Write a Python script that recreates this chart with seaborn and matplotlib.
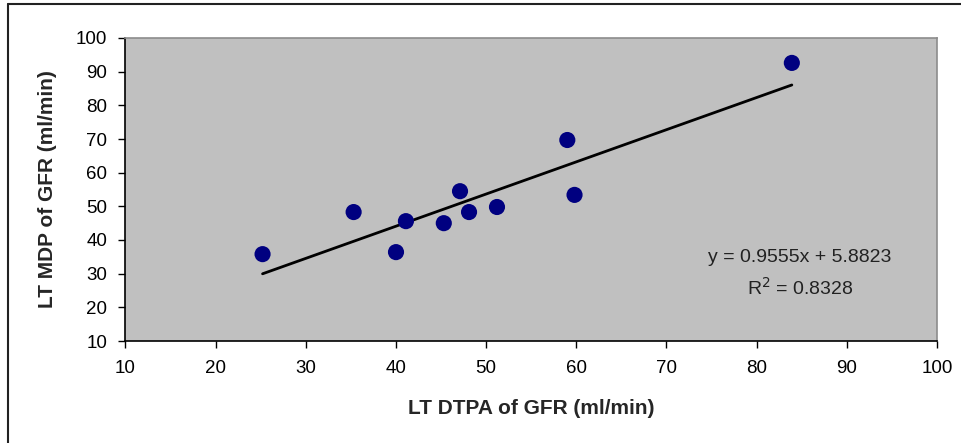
import matplotlib
matplotlib.use("Agg")
import matplotlib.pyplot as plt
from matplotlib.lines import Line2D
import seaborn as sns
import pandas as pd
import numpy as np

# Data
dtpa_gfr = [25.2, 35.3, 40.0, 41.1, 45.3, 47.1, 48.1, 51.2, 59.0, 59.8, 83.9]
mdp_gfr = [35.8, 48.3, 36.4, 45.6, 45.0, 54.5, 48.3, 49.8, 69.7, 53.4, 92.6]
slope = 0.9555
intercept = 5.8823
r_squared = 0.8328
x_ticks = [10, 20, 30, 40, 50, 60, 70, 80, 90, 100]
y_ticks = [10, 20, 30, 40, 50, 60, 70, 80, 90, 100]

df = pd.DataFrame({"x": dtpa_gfr, "y": mdp_gfr})

sns.set_theme(style="white")
plt.rcParams["font.family"] = ["Liberation Sans", "DejaVu Sans"]

W, H = 962, 443
fig = plt.figure(figsize=(W / 100, H / 100), dpi=100)
ax = fig.add_axes([125.5 / W, 1 - 341 / H, (937 - 125.5) / W, (341 - 38) / H])
ax.set_facecolor("#c0c0c0")

# trend line over data range
tx = np.array([min(dtpa_gfr), max(dtpa_gfr)])
trend = pd.DataFrame({"x": tx, "y": slope * tx + intercept})
sns.lineplot(data=trend, x="x", y="y", ax=ax, color="black", linewidth=2.0, zorder=2)

sns.scatterplot(data=df, x="x", y="y", ax=ax, color="#000080", s=135,
                edgecolor="none", zorder=3)

ax.set_xlim(10, 100)
ax.set_ylim(10, 100)
ax.set_xticks(x_ticks)
ax.set_yticks(y_ticks)
ax.tick_params(axis="both", which="major", direction="out", length=5, width=1,
               color="black", labelsize=13.5, labelcolor="black",
               bottom=True, left=True)
ax.tick_params(axis="x", pad=8.5)
ax.tick_params(axis="y", pad=8)
for side in ["left", "bottom"]:
    ax.spines[side].set_color("black")
    ax.spines[side].set_linewidth(1.2)
for side in ["top", "right"]:
    ax.spines[side].set_color("#8c8c8c")
    ax.spines[side].set_linewidth(1.2)

ax.set_xlabel("LT DTPA of GFR (ml/min)", fontsize=15, fontweight="bold")
ax.set_ylabel("LT MDP of GFR (ml/min)", fontsize=15, fontweight="bold")
ax.xaxis.label.set_va("center")
ax.yaxis.label.set_va("center")
ax.xaxis.set_label_coords(0.5, (341 - 409) / 303)
ax.yaxis.set_label_coords((48 - 125.5) / 811.5, 0.5)

ax.text(800 / W, 1 - 258 / H, f"y = {slope}x + {intercept}", transform=fig.transFigure,
        ha="center", va="center", fontsize=14, color="#222222")
ax.text(800 / W, 1 - 288 / H, f"R$^2$ = {r_squared}", transform=fig.transFigure,
        ha="center", va="center", fontsize=14, color="#222222")

# outer frame (cut off at right and bottom)
fig.add_artist(Line2D([8 / W, 8 / W], [0, 1 - 4 / H], transform=fig.transFigure,
                      color="#222222", linewidth=1.5))
fig.add_artist(Line2D([8 / W, 1], [1 - 4 / H, 1 - 4 / H], transform=fig.transFigure,
                      color="#222222", linewidth=1.5))

fig.savefig("out.png", dpi=100)
